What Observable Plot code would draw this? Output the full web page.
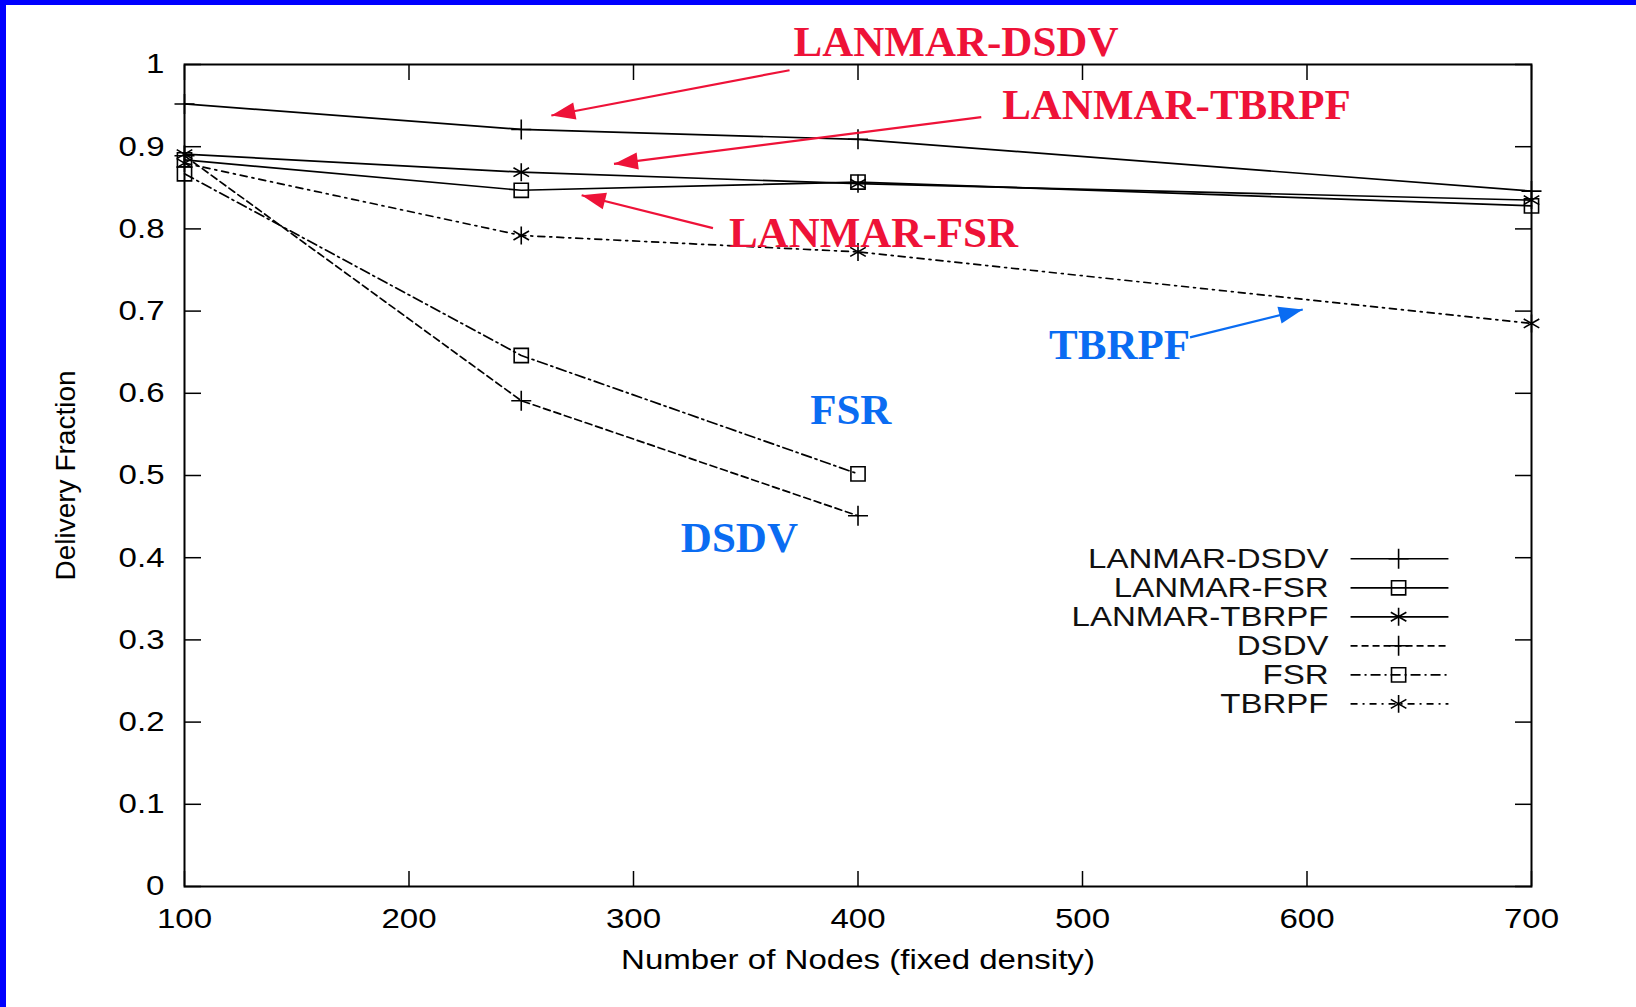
<!DOCTYPE html>
<html>
<head>
<meta charset="utf-8">
<script src="https://cdn.jsdelivr.net/npm/d3@7"></script>
<script src="https://cdn.jsdelivr.net/npm/@observablehq/plot@0.6"></script>
<style>
html, body { margin: 0; padding: 0; background: #fff; overflow: hidden; }
#wrap { position: relative; width: 1636px; height: 1007px; }
#wrap svg { position: absolute; left: 0; top: 0; }
.bar { position: absolute; background: #0000ff; z-index: 5; }
</style>
</head>
<body>
<div id="wrap"></div>
<script>
// ---------------- data ----------------
const nodes = [100, 250, 400, 700];
const seriesNames = ["LANMAR-DSDV", "LANMAR-FSR", "LANMAR-TBRPF", "DSDV", "FSR", "TBRPF"];
const lanmarDsdv  = [0.952, 0.921, 0.909, 0.846];
const lanmarFsr   = [0.884, 0.847, 0.857, 0.828];
const lanmarTbrpf = [0.891, 0.869, 0.855, 0.835];
const dsdv        = [0.889, 0.591, 0.451];
const fsr         = [0.867, 0.646, 0.502];
const tbrpf       = [0.880, 0.792, 0.772, 0.685];

const xTicks = [100, 200, 300, 400, 500, 600, 700];
const yTicks = [0, 0.1, 0.2, 0.3, 0.4, 0.5, 0.6, 0.7, 0.8, 0.9, 1];
const yTickLabels = ["0", "0.1", "0.2", "0.3", "0.4", "0.5", "0.6", "0.7", "0.8", "0.9", "1"];
const xLabel = "Number of Nodes (fixed density)";
const yLabel = "Delivery Fraction";

// annotations (anchored in data units)
const annotationTexts = ["LANMAR-DSDV", "LANMAR-TBRPF", "LANMAR-FSR", "TBRPF", "FSR", "DSDV"];
const annotationX = [371.3, 464.2, 342.5, 485.1, 378.7, 321.1];
const annotationY = [1.027, 0.950, 0.795, 0.659, 0.579, 0.424];
const arrowFromX = [369.5, 454.9, 335.4, 547.9];
const arrowFromY = [0.993, 0.936, 0.801, 0.668];
const arrowToX   = [263.4, 291.3, 276.9, 598.1];
const arrowToY   = [0.938, 0.879, 0.841, 0.702];

// ---------------- styles / layout ----------------
const RED = "#ee1238", BLUE = "#0a6cf2";
const annotationColors = [RED, RED, RED, BLUE, BLUE, BLUE];
const arrowColors = [RED, RED, RED, BLUE];
const seriesStyle = [
  {dash: null, symbol: "plus", r: 6.5},
  {dash: null, symbol: "square", r: 8},
  {dash: null, symbol: "asterisk", r: 8.5},
  {dash: "7,4", symbol: "plus", r: 6.5},
  {dash: "10,4,2,4", symbol: "square", r: 8},
  {dash: "7,5,2,5", symbol: "asterisk", r: 8.5}
];
const legendLayout = {textX: 609.6, lineX1: 619.4, lineX2: 663.0, markX: 640.8, topY: 0.3987, stepY: 0.0353};
const seriesValues = [lanmarDsdv, lanmarFsr, lanmarTbrpf, dsdv, fsr, tbrpf];
const SANS = "'Liberation Sans', Arial, Helvetica, sans-serif";
const SERIF = "'Liberation Serif', 'Times New Roman', serif";

const rows = seriesNames.flatMap((name, s) =>
  seriesValues[s].map((v, i) => ({series: name, x: nodes[i], y: v})));

const annRows = annotationTexts.map((t, i) => ({t, x: annotationX[i], y: annotationY[i], c: annotationColors[i]}));
const arrowRows = arrowFromX.map((_, i) => ({x1: arrowFromX[i], y1: arrowFromY[i], x2: arrowToX[i], y2: arrowToY[i], c: arrowColors[i]}));

function headSymbol(ux, uy) {
  return {
    draw(ctx, size) {
      const L = Math.sqrt(size), Wd = L * 0.72;
      const px = -uy, py = ux;
      ctx.moveTo(0, 0);
      ctx.lineTo(-L * ux + Wd / 2 * px, -L * uy + Wd / 2 * py);
      ctx.lineTo(-L * ux - Wd / 2 * px, -L * uy - Wd / 2 * py);
      ctx.closePath();
    }
  };
}

function buildMarks(dirs) {
  const marks = [];
  // inward ticks
  marks.push(Plot.axisX(xTicks, {anchor: "bottom", tickSize: -15, tickFormat: () => "", label: null, strokeWidth: 1.5}));
  marks.push(Plot.axisX(xTicks, {anchor: "top", tickSize: -15, tickFormat: () => "", label: null, strokeWidth: 1.5}));
  marks.push(Plot.axisY(yTicks, {anchor: "left", tickSize: -17, tickFormat: () => "", label: null, strokeWidth: 1.5}));
  marks.push(Plot.axisY(yTicks, {anchor: "right", tickSize: -17, tickFormat: () => "", label: null, strokeWidth: 1.5}));
  // tick labels
  marks.push(Plot.axisX(xTicks, {anchor: "bottom", tickSize: 0, tickPadding: 22, tickFormat: d => String(d), label: null}));
  marks.push(Plot.axisY(yTicks, {anchor: "left", tickSize: 0, tickPadding: 20, tickFormat: d => yTickLabels[yTicks.indexOf(d)], label: null}));
  marks.push(Plot.frame({stroke: "black", strokeWidth: 2}));
  // axis titles
  marks.push(Plot.text([xLabel], {frameAnchor: "bottom", dy: 74, fontSize: 28, lineAnchor: "middle", textAnchor: "middle"}));
  marks.push(Plot.text([yLabel], {frameAnchor: "left", dx: -118, rotate: -90, fontSize: 28, lineAnchor: "middle", textAnchor: "middle"}));
  // series + legend
  seriesNames.forEach((name, s) => {
    const st = seriesStyle[s];
    const data = rows.filter(r => r.series === name);
    const dashOpt = st.dash ? {strokeDasharray: st.dash} : {};
    marks.push(Plot.line(data, {x: "x", y: "y", stroke: "black", strokeWidth: 1.7, ...dashOpt}));
    marks.push(Plot.dot(data, {x: "x", y: "y", symbol: st.symbol, r: st.r, stroke: "black", fill: "none", strokeWidth: 1.6}));
    const lg = [{name, y: legendLayout.topY - s * legendLayout.stepY, x1: legendLayout.lineX1, x2: legendLayout.lineX2, xm: legendLayout.markX, xt: legendLayout.textX}];
    marks.push(Plot.link(lg, {x1: "x1", x2: "x2", y1: "y", y2: "y", stroke: "black", strokeWidth: 1.7, ...dashOpt}));
    marks.push(Plot.dot(lg, {x: "xm", y: "y", symbol: st.symbol, r: st.r, stroke: "black", fill: "none", strokeWidth: 1.6}));
    marks.push(Plot.text(lg, {x: "xt", y: "y", text: "name", textAnchor: "end", fontSize: 28, fill: "#111"}));
  });
  // annotation arrows
  arrowRows.forEach((a, i) => {
    marks.push(Plot.link([a], {x1: "x1", y1: "y1", x2: "x2", y2: "y2", stroke: a.c, strokeWidth: 2.2}));
    if (dirs) {
      marks.push(Plot.dot([a], {x: "x2", y: "y2", symbol: headSymbol(dirs[i][0], dirs[i][1]), r: 13.5, fill: a.c, stroke: "none"}));
    }
  });
  // annotation texts
  [RED, BLUE].forEach(col => {
    marks.push(Plot.text(annRows.filter(d => d.c === col), {x: "x", y: "y", text: "t", fill: col, textAnchor: "start",
      fontSize: 43, fontWeight: "bold", fontFamily: SERIF}));
  });
  return marks;
}

const plotOptions = (marks) => ({
  width: 1636, height: 1007,
  marginLeft: 184, marginRight: 105, marginTop: 64, marginBottom: 121,
  x: {domain: [100, 700]},
  y: {domain: [0, 1]},
  style: {fontFamily: SANS, fontSize: "28px", background: "white", color: "black"},
  marks
});

// first pass: get scales to orient arrowheads
const firstPlot = Plot.plot(plotOptions(buildMarks(null)));
const sx = firstPlot.scale("x"), sy = firstPlot.scale("y");
const dirs = arrowRows.map(a => {
  const dx = sx.apply(a.x2) - sx.apply(a.x1), dy = sy.apply(a.y2) - sy.apply(a.y1);
  const len = Math.hypot(dx, dy);
  return [dx / len, dy / len];
});

const chart = Plot.plot(plotOptions(buildMarks(dirs)));
const wrapEl = document.getElementById("wrap");
wrapEl.appendChild(chart);

// the original figure's sans text is horizontally stretched
chart.querySelectorAll("text").forEach(t => {
  if (t.textContent === yLabel) return;
  const ff = t.closest("[font-family]");
  if (ff && /Serif/.test(ff.getAttribute("font-family"))) return;
  const L = t.getComputedTextLength();
  if (L > 0) {
    t.setAttribute("textLength", (L * 1.18).toFixed(1));
    t.setAttribute("lengthAdjust", "spacingAndGlyphs");
  }
});

// blue slide border
const barTop = document.createElement("div");
barTop.className = "bar"; barTop.style.cssText = "left:0;top:0;width:1636px;height:5px";
const barLeft = document.createElement("div");
barLeft.className = "bar"; barLeft.style.cssText = "left:0;top:0;width:6px;height:1007px";
wrapEl.appendChild(barTop); wrapEl.appendChild(barLeft);
</script>
</body>
</html>
